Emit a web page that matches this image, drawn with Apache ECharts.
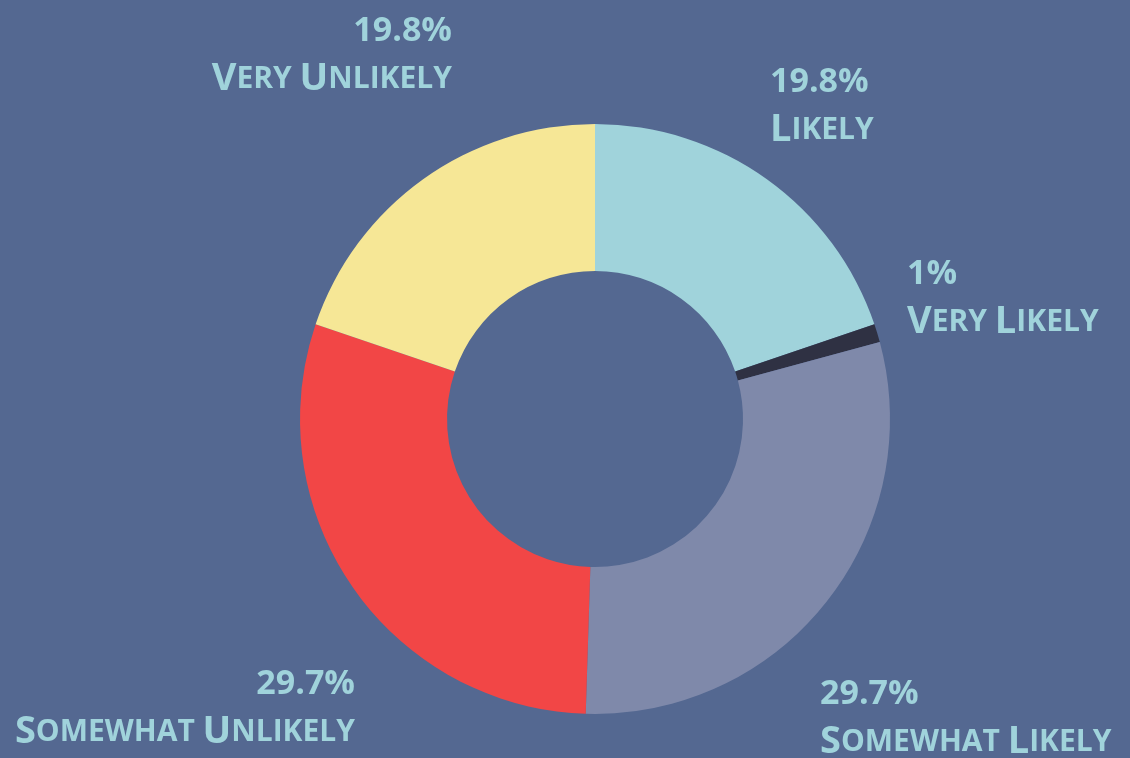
<!DOCTYPE html>
<html>
<head>
<meta charset="utf-8">
<script src="https://cdn.jsdelivr.net/npm/echarts@6/dist/echarts.min.js"></script>
<style>
  html, body { margin: 0; padding: 0; background: #546891; }
  #main { width: 1130px; height: 758px; }
</style>
</head>
<body>
<div id="main"></div>
<script>
  // answers, clockwise from 12 o'clock
  const categories = ['Likely', 'Very Likely', 'Somewhat Likely', 'Somewhat Unlikely', 'Very Unlikely'];
  const shares = [19.8, 1, 29.7, 29.7, 19.8];
  const colors = ['#a0d3db', '#2f3143', '#7f89aa', '#f24646', '#f6e796'];

  // where each label block sits (anchor x, top y, alignment)
  const labelSpots = [
    { x: 770, y: 58, align: 'left' },
    { x: 907, y: 250, align: 'left' },
    { x: 820, y: 670, align: 'left' },
    { x: 355, y: 660, align: 'right' },
    { x: 452, y: 7, align: 'right' }
  ];

  // fake small caps: first letter of each word big, the rest smaller
  function smallCaps(name) {
    return name.split(' ').map(w =>
      '{c|' + w[0].toUpperCase() + '}{s|' + w.slice(1).toUpperCase() + '}'
    ).join('{s| }');
  }

  const txt = { color: '#a0d3db', fontFamily: 'Open Sans', fontWeight: 'bold', lineHeight: 48 };

  const myChart = echarts.init(document.getElementById('main'));
  myChart.setOption({
    backgroundColor: '#546891',
    animation: false,
    series: [
      {
        type: 'pie',
        center: [595, 419],
        radius: [148, 295],
        startAngle: 90,
        clockwise: true,
        avoidLabelOverlap: false,
        data: categories.map((name, i) => ({
          name: name,
          value: shares[i],
          itemStyle: { color: colors[i] }
        })),
        label: {
          show: true,
          position: 'outside',
          formatter: p => '{p|' + p.value + '%}\n' + smallCaps(p.name),
          rich: {
            p: Object.assign({ fontSize: 34 }, txt),
            c: Object.assign({ fontSize: 38 }, txt),
            s: Object.assign({ fontSize: 30 }, txt)
          }
        },
        labelLine: { show: false },
        labelLayout: function (params) {
          const s = labelSpots[params.dataIndex];
          return { x: s.x, y: s.y, align: s.align, verticalAlign: 'top' };
        }
      }
    ]
  });
</script>
</body>
</html>
